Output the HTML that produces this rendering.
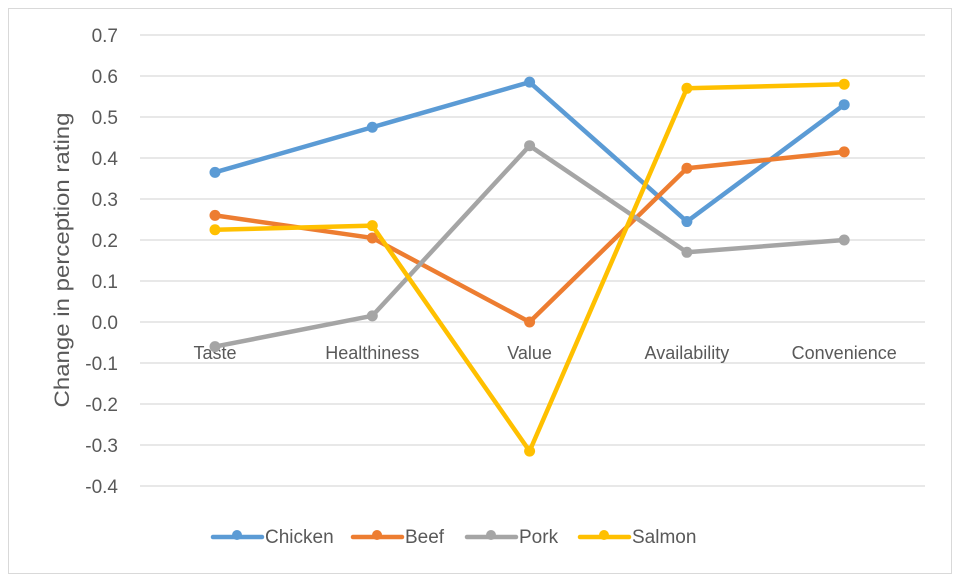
<!DOCTYPE html>
<html><head><meta charset="utf-8"><style>
body{margin:0;background:#fff;}
svg text{font-family:"Liberation Sans",sans-serif;fill:#595959;}
</style></head><body>
<svg id="chart" width="960" height="582">
<rect x="8.5" y="8.5" width="943" height="565" fill="#fff" stroke="#d9d9d9"/>
<g id="grid"></g><g id="series"></g><g id="legend"></g>
<text transform="translate(69,260) rotate(-90)" text-anchor="middle" font-size="21" textLength="295" lengthAdjust="spacingAndGlyphs">Change in perception rating</text>
</svg>
<script>
const categories=["Taste","Healthiness","Value","Availability","Convenience"];
const seriesNames=["Chicken","Beef","Pork","Salmon"];
const colors=["#5b9bd5","#ed7d31","#a5a5a5","#ffc000"];
const chicken=[0.365,0.475,0.585,0.245,0.53];
const beef=[0.26,0.205,0.0,0.375,0.415];
const pork=[-0.06,0.015,0.43,0.17,0.2];
const salmon=[0.225,0.235,-0.315,0.57,0.58];
const yTicks=[0.7,0.6,0.5,0.4,0.3,0.2,0.1,0.0,-0.1,-0.2,-0.3,-0.4];
const ns="http://www.w3.org/2000/svg";
const y=v=>322-v*410;
const x=i=>215+i*157.3;
function mk(t,a,p){const e=document.createElementNS(ns,t);for(const k in a)e.setAttribute(k,a[k]);p.appendChild(e);return e;}
const grid=document.getElementById('grid');
yTicks.forEach(v=>{
 const l=mk('line',{x1:140,x2:925,y1:y(v),y2:y(v),stroke:'#d9d9d9','stroke-width':1.3},grid);
 
 
 const t=mk('text',{x:118,y:y(v)+7,'text-anchor':'end','font-size':19},grid);
 t.textContent=v.toFixed(1);
 
 
});
categories.forEach((c,i)=>{
 const t=mk('text',{x:x(i),y:359,'text-anchor':'middle','font-size':18},grid);
 t.textContent=c;
 
 
});
const all=[chicken,beef,pork,salmon];
const sg=document.getElementById('series');
all.forEach((d,s)=>{
 const g=mk('g',{},sg);
 
 
 const p=mk('polyline',{points:d.map((v,i)=>x(i)+','+y(v)).join(' '),fill:'none',stroke:colors[s],'stroke-width':4.5,'stroke-linejoin':'round','stroke-linecap':'round'},g);
 
 
 d.forEach((v,i)=>{
  const c=mk('circle',{cx:x(i),cy:y(v),r:5.5,fill:colors[s]},g);
  
  
 });
});
const lg=document.getElementById('legend');
const lx=[213,353,467,580];
seriesNames.forEach((n,s)=>{
 const g=mk('g',{},lg);
 
 
 mk('line',{x1:lx[s],x2:lx[s]+49,y1:537,y2:537,stroke:colors[s],'stroke-width':4.5,'stroke-linecap':'round'},g);
 mk('circle',{cx:lx[s]+24,cy:535,r:5,fill:colors[s]},g);
 const t=mk('text',{x:lx[s]+52,y:543,'font-size':19},g);
 t.textContent=n;
});
</script>
</body></html>
